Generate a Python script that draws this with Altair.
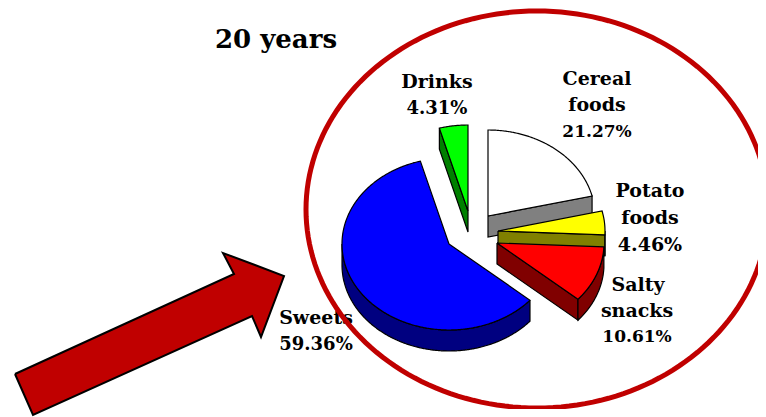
import numpy as np
import pandas as pd
import altair as alt

# Chart values
categories = ["Cereal foods", "Potato foods", "Salty snacks", "Sweets", "Drinks"]
shares = [21.27, 4.46, 10.61, 59.36, 4.31]
label_text = ["20 years", "Drinks", "4.31%", "Cereal", "foods", "21.27%", "Potato", "foods", "4.46%",
              "Salty", "snacks", "10.61%", "Sweets", "59.36%"]

# Styling and layout, in picture units
top_colors = ["#FFFFFF", "#FFFF00", "#FF0000", "#0000FF", "#00FF00"]
side_colors = ["#808080", "#808000", "#800000", "#000080", "#008000"]
apex_x = [488, 498, 497, 449, 468]
apex_y = [216, 231, 243, 244, 211]
label_x = [276, 437, 437, 597, 597, 597, 650, 650, 650, 638, 637, 637, 316, 316]
label_y = [40, 82, 109, 79, 105, 132, 191, 218, 245, 285, 311, 337, 318, 345]
label_size = [26, 19, 18, 19, 19, 17, 19, 19, 19, 19, 19, 17, 19, 18]
arrow_x = [15, 33, 252, 261, 284, 223, 234, 15]
arrow_y = [374, 415, 316, 337, 276, 253, 274, 374]

RX, RY, DEPTH = 107, 86, 21
ELL_CX, ELL_CY, ELL_RX, ELL_RY = 537, 209.5, 231, 198.5

X = alt.Scale(domain=[8, 758], range=[0, 750], nice=False, zero=False)
Y = alt.Scale(domain=[8, 409], range=[0, 401], nice=False, zero=False)


def poly(xs, ys, fill, stroke="black", width=1.2):
    xs, ys = list(xs), list(ys)
    df = pd.DataFrame({"x": xs, "y": ys, "i": range(len(xs))})
    mark = alt.Chart(df).mark_line(fill=fill, stroke=stroke, strokeWidth=width, strokeJoin="miter", interpolate="linear")
    return mark.encode(
        x=alt.X("x:Q", scale=X, axis=None),
        y=alt.Y("y:Q", scale=Y, axis=None),
        order=alt.Order("i:Q"),
    )


def arc(cx, cy, a0, a1):
    t = np.radians(np.linspace(a0, a1, max(int(abs(a1 - a0)) * 2, 2)))
    return cx + RX * np.sin(t), cy - RY * np.cos(t)


layers = []
total = sum(shares)
starts = np.cumsum([0] + shares[:-1]) * 360 / total
ends = starts + np.array(shares) * 360 / total

for idx in range(len(categories)):
    cx, cy = apex_x[idx], apex_y[idx]
    a0, a1 = float(starts[idx]), float(ends[idx])
    side = side_colors[idx]
    # flat cut wall facing the viewer
    if idx in (0, 1, 2, 4):
        a = a0 if idx == 4 else a1
        ex, ey = arc(cx, cy, a, a)
        tx, ty = ex[0], ey[0]
        layers.append(poly([cx, tx, tx, cx, cx], [cy, ty, ty + DEPTH, cy + DEPTH, cy], side))
    # curved outer wall, only the part facing the viewer
    w0, w1 = max(a0, 90), min(a1, 270)
    if w1 > w0:
        ax, ay = arc(cx, cy, w0, w1)
        layers.append(poly(list(ax) + list(ax[::-1]) + [ax[0]],
                           list(ay) + list(ay[::-1] + DEPTH) + [ay[0]], side))
    # top face
    ax, ay = arc(cx, cy, a0, a1)
    layers.append(poly([cx] + list(ax) + [cx], [cy] + list(ay) + [cy], top_colors[idx]))

layers.append(poly(arrow_x, arrow_y, "#C00000", width=2))

labels = pd.DataFrame({"t": label_text, "x": label_x, "y": label_y, "s": label_size})
layers.append(
    alt.Chart(labels).mark_text(font="DejaVu Serif", fontWeight="bold", color="black", baseline="middle", align="center").encode(
        x=alt.X("x:Q", scale=X, axis=None),
        y=alt.Y("y:Q", scale=Y, axis=None),
        text="t:N",
        size=alt.Size("s:Q", scale=None, legend=None),
    )
)

deg = np.radians(np.arange(0, 361, 2))
ell = pd.DataFrame({
    "x": ELL_CX + ELL_RX * np.cos(deg),
    "y": ELL_CY + ELL_RY * np.sin(deg),
    "i": range(len(deg)),
})
layers.append(
    alt.Chart(ell).mark_line(stroke="#C00000", strokeWidth=5, clip=True).encode(
        x=alt.X("x:Q", scale=X, axis=None),
        y=alt.Y("y:Q", scale=Y, axis=None),
        order=alt.Order("i:Q"),
    )
)

chart = alt.layer(*layers).properties(width=750, height=401, padding=0, background="white").configure_view(strokeWidth=0, stroke=None)
chart.save("out.html", embed_options={"renderer": "svg", "actions": False})
